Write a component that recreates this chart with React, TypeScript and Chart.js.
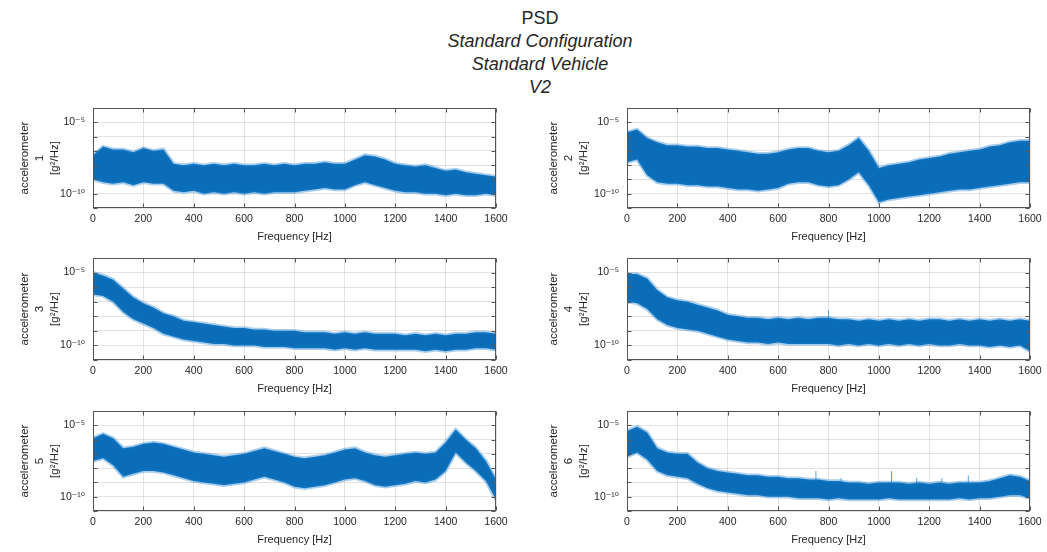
import React, { useEffect, useRef } from "react";
import { Chart, registerables } from "chart.js";

Chart.register(...registerables);

// ---------- data ----------
const TITLE_LINES = ["PSD", "Standard Configuration", "Standard Vehicle", "V2"];
const X_LABEL = "Frequency [Hz]";
const Y_LABEL_TOP = "accelerometer";
const Y_LABEL_UNIT = "[g²/Hz]";
const SENSOR_NAMES = ["1", "2", "3", "4", "5", "6"];

const FREQS = [
  0, 40, 80, 120, 160, 200, 240, 280, 320, 360, 400, 440, 480, 520, 560, 600, 640, 680, 720, 760, 800,
  840, 880, 920, 960, 1000, 1040, 1080, 1120, 1160, 1200, 1240, 1280, 1320, 1360, 1400, 1440, 1480, 1520,
  1560, 1600,
];
const X_TICKS = [0, 200, 400, 600, 800, 1000, 1200, 1400, 1600];
const Y_DECADES = [-11, -10, -9, -8, -7, -6, -5, -4];
const Y_TICK_LABELS: Record<string, string> = { "-5": "10⁻⁵", "-10": "10⁻¹⁰" };

// PSD envelopes, log10(g^2/Hz)
const acc1Upper = [-7.3, -6.7, -6.9, -6.9, -7.1, -6.8, -7.0, -6.9, -7.9, -8.0, -7.9, -8.0, -7.9, -8.0, -7.9, -8.0, -8.0, -7.9, -8.0, -7.9, -8.0, -7.9, -7.9, -7.8, -7.9, -7.9, -7.6, -7.3, -7.4, -7.6, -7.9, -8.0, -8.1, -8.0, -8.2, -8.4, -8.3, -8.5, -8.6, -8.7, -8.8];
const acc1Lower = [-9.0, -9.2, -9.3, -9.2, -9.4, -9.2, -9.3, -9.3, -9.8, -9.9, -9.8, -10.0, -9.9, -10.0, -9.9, -10.0, -9.9, -10.0, -9.9, -9.9, -9.9, -9.8, -9.7, -9.6, -9.7, -9.7, -9.4, -9.2, -9.4, -9.6, -9.8, -9.9, -9.9, -10.0, -10.0, -10.1, -10.0, -10.1, -10.1, -10.0, -10.1];

const acc2Upper = [-5.7, -5.5, -6.1, -6.4, -6.6, -6.6, -6.7, -6.7, -6.8, -6.8, -6.9, -7.0, -7.1, -7.2, -7.2, -7.1, -6.9, -6.8, -6.8, -7.0, -7.1, -7.0, -6.6, -6.1, -7.0, -8.2, -8.0, -7.9, -7.8, -7.6, -7.5, -7.4, -7.2, -7.1, -7.0, -6.9, -6.7, -6.6, -6.4, -6.3, -6.3];
const acc2Lower = [-7.8, -7.6, -8.7, -9.2, -9.3, -9.3, -9.4, -9.4, -9.5, -9.5, -9.6, -9.7, -9.7, -9.8, -9.7, -9.6, -9.3, -9.2, -9.2, -9.4, -9.5, -9.4, -9.0, -8.5, -9.4, -10.6, -10.4, -10.3, -10.2, -10.1, -10.0, -9.9, -9.8, -9.7, -9.7, -9.6, -9.5, -9.4, -9.3, -9.2, -9.2];

const acc3Upper = [-5.0, -5.2, -5.5, -6.1, -6.7, -7.1, -7.4, -7.8, -8.0, -8.3, -8.4, -8.5, -8.6, -8.7, -8.8, -8.8, -8.9, -8.9, -9.0, -9.0, -9.0, -9.1, -9.1, -9.1, -9.2, -9.1, -9.2, -9.1, -9.2, -9.2, -9.2, -9.3, -9.2, -9.3, -9.2, -9.3, -9.2, -9.2, -9.1, -9.1, -9.2];
const acc3Lower = [-6.5, -6.6, -7.0, -7.7, -8.2, -8.5, -8.8, -9.2, -9.4, -9.6, -9.7, -9.8, -9.9, -9.9, -10.0, -10.0, -10.0, -10.1, -10.1, -10.1, -10.2, -10.2, -10.2, -10.2, -10.3, -10.2, -10.3, -10.2, -10.3, -10.3, -10.3, -10.3, -10.3, -10.4, -10.3, -10.4, -10.3, -10.3, -10.2, -10.2, -10.3];

const acc4Upper = [-5.1, -5.1, -5.4, -6.2, -6.7, -6.9, -7.0, -7.2, -7.4, -7.6, -7.9, -8.0, -8.1, -8.1, -8.2, -8.1, -8.2, -8.1, -8.2, -8.1, -8.1, -8.2, -8.2, -8.3, -8.2, -8.3, -8.2, -8.3, -8.2, -8.3, -8.2, -8.2, -8.3, -8.2, -8.3, -8.2, -8.3, -8.2, -8.3, -8.2, -8.3];
const acc4Lower = [-7.0, -7.1, -7.5, -8.2, -8.6, -8.8, -8.9, -9.0, -9.2, -9.4, -9.6, -9.7, -9.8, -9.8, -9.9, -9.8, -9.9, -9.9, -9.9, -9.9, -9.9, -10.0, -9.9, -10.0, -9.9, -10.0, -9.9, -10.0, -9.9, -10.0, -9.9, -10.0, -10.0, -9.9, -10.0, -10.0, -10.1, -10.0, -10.1, -10.0, -10.4];

const acc5Upper = [-5.9, -5.6, -5.9, -6.6, -6.5, -6.3, -6.2, -6.3, -6.5, -6.7, -6.9, -7.0, -7.1, -7.2, -7.1, -7.0, -6.8, -6.6, -6.8, -7.0, -7.2, -7.3, -7.2, -7.1, -6.9, -6.7, -6.6, -6.9, -7.1, -7.2, -7.1, -7.0, -6.9, -7.0, -6.9, -6.2, -5.3, -6.0, -6.6, -7.5, -8.8];
const acc5Lower = [-7.5, -7.3, -7.8, -8.6, -8.4, -8.2, -8.2, -8.3, -8.5, -8.7, -8.9, -9.0, -9.1, -9.2, -9.1, -9.0, -8.8, -8.6, -8.8, -9.0, -9.3, -9.4, -9.3, -9.2, -9.0, -8.8, -8.7, -8.9, -9.2, -9.3, -9.2, -9.1, -8.9, -9.0, -8.8, -8.2, -6.9, -7.6, -8.2, -8.9, -10.2];

const acc6Upper = [-5.4, -5.1, -5.5, -6.6, -6.9, -7.0, -7.0, -7.6, -8.0, -8.2, -8.3, -8.4, -8.5, -8.5, -8.6, -8.6, -8.7, -8.7, -8.8, -8.8, -8.9, -8.9, -9.0, -9.0, -9.1, -9.0, -9.0, -9.0, -9.1, -9.0, -9.1, -9.0, -9.1, -9.0, -9.0, -9.0, -8.9, -8.7, -8.5, -8.6, -8.9];
const acc6Lower = [-7.2, -6.9, -7.4, -8.2, -8.5, -8.6, -8.7, -9.1, -9.4, -9.6, -9.7, -9.8, -9.9, -9.9, -10.0, -10.0, -10.0, -10.1, -10.1, -10.1, -10.2, -10.1, -10.2, -10.2, -10.2, -10.2, -10.1, -10.2, -10.2, -10.2, -10.2, -10.2, -10.2, -10.1, -10.2, -10.1, -10.1, -10.0, -9.9, -9.9, -10.1];

// narrow spectral lines sticking out of the band
const acc4SpikeFreqs = [800];
const acc4SpikeTops = [-7.6];
const acc4SpikeBase = -9.0;
const acc6SpikeFreqs = [750, 850, 1050, 1150, 1250, 1355];
const acc6SpikeTops = [-8.2, -8.7, -8.2, -8.7, -8.7, -8.5];
const acc6SpikeBase = -9.6;

const SERIES = [
  { upper: acc1Upper, lower: acc1Lower, spikes: [] as number[], spikeTops: [] as number[], spikeBase: 0 },
  { upper: acc2Upper, lower: acc2Lower, spikes: [] as number[], spikeTops: [] as number[], spikeBase: 0 },
  { upper: acc3Upper, lower: acc3Lower, spikes: [] as number[], spikeTops: [] as number[], spikeBase: 0 },
  { upper: acc4Upper, lower: acc4Lower, spikes: acc4SpikeFreqs, spikeTops: acc4SpikeTops, spikeBase: acc4SpikeBase },
  { upper: acc5Upper, lower: acc5Lower, spikes: [] as number[], spikeTops: [] as number[], spikeBase: 0 },
  { upper: acc6Upper, lower: acc6Lower, spikes: acc6SpikeFreqs, spikeTops: acc6SpikeTops, spikeBase: acc6SpikeBase },
];

// ---------- styling / layout ----------
const FONT = "'Liberation Sans', Arial, Helvetica, 'DejaVu Sans', sans-serif";
const TEXT = "#262626";
const BLUE = "#0b6db8";
const EDGE = "rgba(25,125,205,0.38)";
const SPIKE = "rgba(25,125,205,0.7)";
const GRID = "rgba(38,38,38,0.13)";

const COLS = [
  { left: 0, width: 516, titlePad: 17.5 },
  { left: 534, width: 513, titlePad: 12 },
];
const ROWS = [
  { top: 108, h: 100 },
  { top: 258, h: 102 },
  { top: 411, h: 100 },
];
const PAD_TOP = 6;
const X_AXIS_H = 40;
const Y_AXIS_W = 93;

const boxPlugin = {
  id: "boxTicks",
  afterDatasetsDraw(chart: any) {
    const { ctx, chartArea: a, scales } = chart;
    const L = Math.round(a.left) + 0.5;
    const R = Math.round(a.right) - 0.5;
    const T = Math.round(a.top) + 0.5;
    const B = Math.round(a.bottom) - 0.5;
    ctx.save();
    ctx.strokeStyle = "#555";
    ctx.lineWidth = 1;
    ctx.beginPath();
    for (const t of scales.x.ticks) {
      const x = Math.round(scales.x.getPixelForValue(t.value)) + 0.5;
      ctx.moveTo(x, B);
      ctx.lineTo(x, B - 4);
      ctx.moveTo(x, T);
      ctx.lineTo(x, T + 4);
    }
    for (const t of scales.y.ticks) {
      const y = Math.round(scales.y.getPixelForValue(t.value)) + 0.5;
      ctx.moveTo(L, y);
      ctx.lineTo(L + 4, y);
      ctx.moveTo(R, y);
      ctx.lineTo(R - 4, y);
    }
    ctx.stroke();
    ctx.strokeRect(L, T, R - L, B - T);
    ctx.restore();
  },
};

function Panel({ idx }: { idx: number }) {
  const ref = useRef<HTMLCanvasElement | null>(null);
  const col = COLS[idx % 2];
  const row = ROWS[Math.floor(idx / 2)];
  const height = PAD_TOP + row.h + X_AXIS_H;

  useEffect(() => {
    if (!ref.current) return;
    const s = SERIES[idx];
    const upper = FREQS.map((f, i) => ({ x: f, y: Math.pow(10, s.upper[i]) }));
    const lower = FREQS.map((f, i) => ({ x: f, y: Math.pow(10, s.lower[i]) }));
    const spikePts: any[] = [];
    s.spikes.forEach((f, i) => {
      spikePts.push({ x: f, y: Math.pow(10, s.spikeBase) });
      spikePts.push({ x: f, y: Math.pow(10, s.spikeTops[i]) });
      spikePts.push({ x: f, y: null });
    });

    const chart = new Chart(ref.current, {
      type: "line",
      data: {
        datasets: [
          {
            data: upper,
            borderColor: EDGE,
            borderWidth: 3.5,
            pointRadius: 0,
            fill: false,
          },
          {
            data: lower,
            borderColor: EDGE,
            borderWidth: 3.5,
            pointRadius: 0,
            backgroundColor: BLUE,
            fill: "-1",
          },
          {
            data: spikePts,
            borderColor: SPIKE,
            borderWidth: 1,
            pointRadius: 0,
            fill: false,
            spanGaps: false,
          },
        ],
      },
      plugins: [boxPlugin],
      options: {
        animation: false,
        responsive: false,
        devicePixelRatio: 1,
        events: [],
        layout: { padding: { top: PAD_TOP, right: col.width - Y_AXIS_W - 403, left: 0, bottom: 0 } },
        plugins: { legend: { display: false }, tooltip: { enabled: false } },
        elements: { line: { tension: 0 } },
        scales: {
          x: {
            type: "linear",
            min: 0,
            max: 1600,
            afterBuildTicks: (sc: any) => {
              sc.ticks = X_TICKS.map((v) => ({ value: v }));
            },
            afterFit: (sc: any) => {
              sc.height = X_AXIS_H;
              sc.paddingLeft = 0;
              sc.paddingRight = 0;
            },
            ticks: {
              autoSkip: false,
              maxRotation: 0,
              padding: 5,
              color: TEXT,
              font: { family: FONT, size: 10.5 },
              callback: (v: any) => String(v),
            },
            grid: { color: GRID, drawTicks: false },
            border: { display: false },
            title: {
              display: true,
              text: X_LABEL,
              color: TEXT,
              font: { family: FONT, size: 11, lineHeight: 1.2 },
              padding: { top: 0, bottom: 4 },
            },
          },
          y: {
            type: "logarithmic",
            min: 1e-11,
            max: 1e-4,
            afterBuildTicks: (sc: any) => {
              sc.ticks = Y_DECADES.map((d) => ({ value: Math.pow(10, d) }));
            },
            afterFit: (sc: any) => {
              sc.width = Y_AXIS_W;
              sc.paddingTop = 0;
              sc.paddingBottom = 0;
            },
            ticks: {
              autoSkip: false,
              padding: 8,
              color: TEXT,
              font: { family: FONT, size: 10.5 },
              callback: (v: any) => Y_TICK_LABELS[String(Math.round(Math.log10(Number(v))))] || "",
            },
            grid: { color: GRID, drawTicks: false },
            border: { display: false },
            title: {
              display: true,
              text: [Y_LABEL_TOP, SENSOR_NAMES[idx], Y_LABEL_UNIT],
              color: TEXT,
              font: { family: FONT, size: 11.5, lineHeight: "15px" },
              padding: { top: col.titlePad, bottom: 0 },
            },
          },
        },
      } as any,
    });
    return () => chart.destroy();
  }, [idx]);

  return (
    <canvas
      ref={ref}
      width={col.width}
      height={height}
      style={{ position: "absolute", left: col.left, top: row.top - PAD_TOP, width: col.width, height }}
    />
  );
}

export default function App() {
  return (
    <div
      style={{
        position: "absolute",
        left: 0,
        top: 0,
        width: 1047,
        height: 552,
        background: "#fff",
        overflow: "hidden",
      }}
    >
      <div
        style={{
          position: "absolute",
          left: 340,
          top: 6.5,
          width: 400,
          textAlign: "center",
          fontFamily: FONT,
          fontSize: 18,
          lineHeight: "23px",
          color: TEXT,
        }}
      >
        {TITLE_LINES.map((t, i) => (
          <div key={i} style={{ fontStyle: i === 0 ? "normal" : "italic" }}>
            {t}
          </div>
        ))}
      </div>
      {[0, 1, 2, 3, 4, 5].map((i) => (
        <Panel key={i} idx={i} />
      ))}
    </div>
  );
}
